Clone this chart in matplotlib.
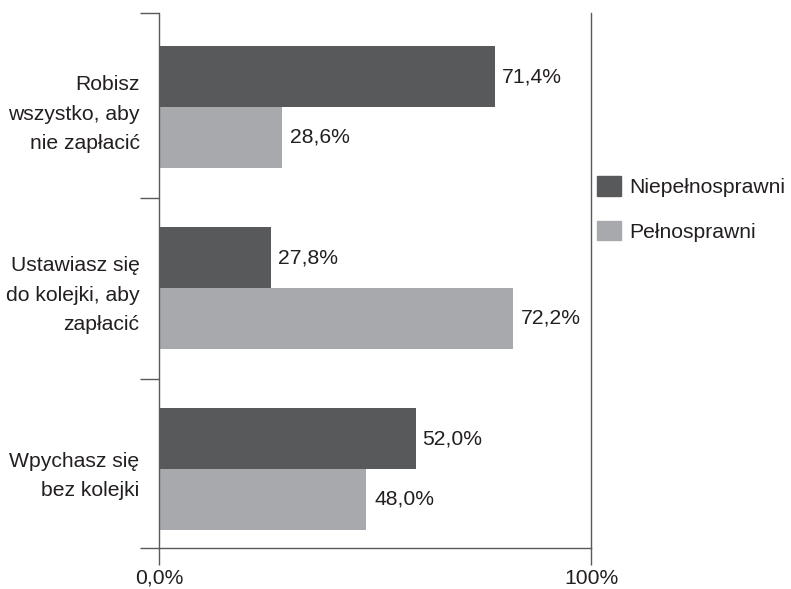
import matplotlib.pyplot as plt
from matplotlib.patches import Patch

# categories (top to bottom) and series
categories = ["Robisz\nwszystko, aby\nnie zapłacić",
              "Ustawiasz się\ndo kolejki, aby\nzapłacić",
              "Wpychasz się\nbez kolejki"]
series_names = ["Niepełnosprawni", "Pełnosprawni"]
# bar lengths as drawn in the picture (percent of axis)
dark_values = [77.8, 25.9, 59.4]
light_values = [28.5, 81.9, 47.9]
# value labels printed next to the bars
dark_labels = ["71,4%", "27,8%", "52,0%"]
light_labels = ["28,6%", "72,2%", "48,0%"]
x_ticks = [0, 100]
x_tick_labels = ["0,0%", "100%"]

dark_color = "#58595b"
light_color = "#a7a9ac"
text_color = "#231f20"
line_color = "#5a5a5c"

plt.rcParams['font.family'] = ['Liberation Sans', 'DejaVu Sans']
plt.rcParams['font.size'] = 15.2

fig = plt.figure(figsize=(7.91, 5.89), dpi=100)
ax = fig.add_axes([159 / 791, 1 - 548 / 589, 432 / 791, 535 / 589])

bar_h = 0.337
ypos = list(range(len(categories)))
ax.barh([y - bar_h / 2 for y in ypos], dark_values, height=bar_h, color=dark_color)
ax.barh([y + bar_h / 2 for y in ypos], light_values, height=bar_h, color=light_color)

for y, v, lab in zip(ypos, dark_values, dark_labels):
    ax.annotate(lab, (v, y - bar_h / 2), xytext=(5, 0), textcoords="offset points",
                va="center", ha="left", color=text_color)
for y, v, lab in zip(ypos, light_values, light_labels):
    ax.annotate(lab, (v, y + bar_h / 2), xytext=(6, 0), textcoords="offset points",
                va="center", ha="left", color=text_color)

# axis limits: 181 px per category, top at y=13 px, bottom at y=548 px
top = -94 / 181
bottom = 2 + 79 / 181
ax.set_ylim(bottom, top)
ax.set_xlim(0, 100)

# category labels centred on groups, ticks at group boundaries
ax.set_yticks([top, 0.5, 1.5, bottom])
ax.set_yticklabels([])
ax.set_yticks(ypos, minor=True)
ax.set_yticklabels(categories, minor=True, color=text_color, linespacing=1.68)
ax.tick_params(axis="y", which="major", length=13.5, width=1, color=line_color)
ax.tick_params(axis="y", which="minor", length=0, pad=14)

ax.set_xticks(x_ticks)
ax.set_xticklabels(x_tick_labels, color=text_color)
ax.tick_params(axis="x", length=12, width=1, color=line_color, pad=3)

for side in ["left", "right", "bottom"]:
    ax.spines[side].set_color(line_color)
    ax.spines[side].set_linewidth(1)
ax.spines["top"].set_visible(False)

handles = [Patch(color=dark_color), Patch(color=light_color)]
fig.legend(handles, series_names, loc="center left", bbox_to_anchor=(589 / 791, 1 - 209 / 589),
           frameon=False, handlelength=1.1, handleheight=1.05, handletextpad=0.4,
           labelspacing=1.1, borderaxespad=0, labelcolor=text_color)

fig.savefig("out.png", dpi=100)
